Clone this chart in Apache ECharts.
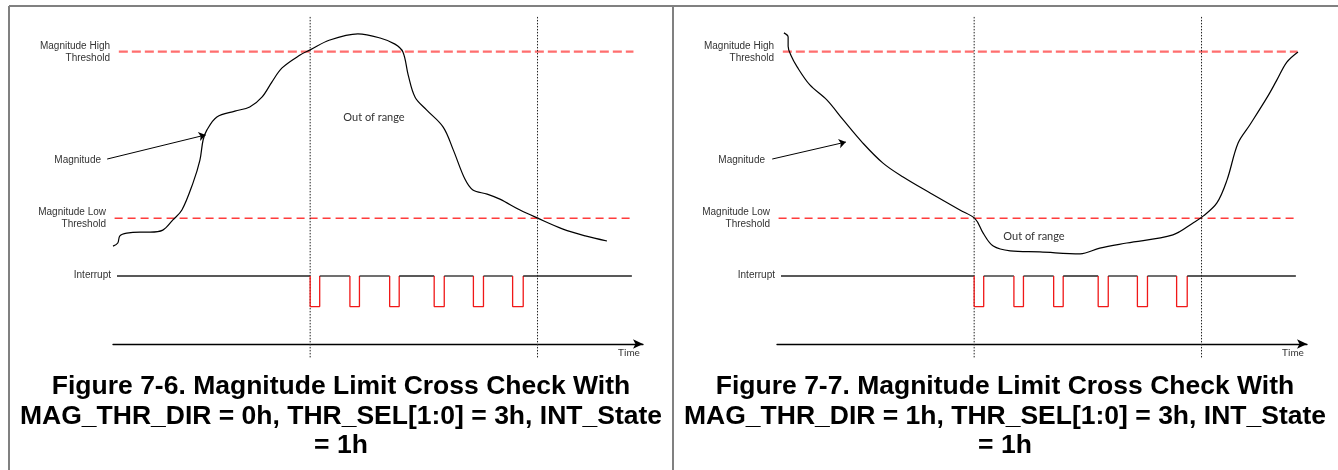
<!DOCTYPE html>
<html>
<head>
<meta charset="utf-8">
<script src="https://cdn.jsdelivr.net/npm/echarts@6/dist/echarts.min.js"></script>
<style>
  html, body { margin: 0; padding: 0; background: #fff; }
  #main { width: 1338px; height: 470px; }
</style>
</head>
<body>
<div id="main"></div>
<script>
// time runs 0..100 along the Time arrow, magnitude 0..100 above it
var magLeft = [[0, 28.8], [0.9, 29.7], [1.3, 31.8], [2.6, 32.6], [5.1, 32.9], [7.0, 32.9], [9.4, 33.5],
  [11.3, 36.5], [13.0, 39.4], [15.1, 47.4], [16.4, 54.1], [17.0, 60.0], [17.7, 62.9], [19.6, 66.8],
  [23.0, 68.5], [25.8, 69.7], [28.1, 72.6], [30.0, 77.1], [31.9, 81.2], [35.3, 85.0], [37.2, 86.5],
  [40.9, 89.4], [46.2, 91.2], [50.4, 90.0], [53.2, 88.2], [54.7, 85.9], [55.7, 79.1], [57.0, 72.6],
  [59.2, 68.8], [62.3, 63.8], [64.2, 57.1], [66.4, 48.5], [67.9, 45.3], [70.6, 44.1], [73.0, 42.6],
  [76.8, 39.4], [80.0, 37.1], [84.9, 33.8], [89.1, 31.8], [93.2, 30.3]];
var magRight = [[1.3, 91.5], [2.1, 90.3], [2.1, 87.6], [2.6, 85.0], [3.8, 81.5], [6.2, 76.2], [9.4, 71.8],
  [12.5, 65.9], [16.2, 59.1], [20.0, 53.2], [23.8, 49.1], [28.9, 44.4], [34.5, 39.4], [37.4, 36.8],
  [38.9, 32.6], [40.8, 28.8], [44.0, 27.4], [49.6, 27.1], [57.2, 26.5], [60.9, 28.2], [66.0, 29.7],
  [74.7, 32.1], [78.5, 35.6], [80.4, 37.6], [83.0, 41.5], [84.9, 48.2], [87.0, 59.1], [89.2, 64.4],
  [92.5, 72.6], [94.3, 77.6], [96.2, 82.9], [98.3, 85.9]];
var highThr = [[1.1, 86], [98.2, 86]];
var lowThr = [[0.3, 37], [97.6, 37]];
var intHigh = 20, intLow = 11, intStart = 0.75, intEnd = 97.9;
var pulses = [[37.2, 39.0], [44.7, 46.5], [52.2, 54.0], [60.6, 62.5], [68.0, 69.9], [75.4, 77.4]];
var crossLeft = [37.2, 80.1];
var crossRight = [37.2, 80.1];
var dotTop = 96.2, dotBottom = -4.1;
var arrowLeft = [[-1.1, 54.4], [17.5, 61.5]];
var arrowRight = [[-0.9, 54.4], [13.0, 59.4]];

var chart = echarts.init(document.getElementById('main'));
var offset = 664;
var series = [];

function addLine(g, data, style, extra) {
  var s = {
    type: 'line', xAxisIndex: g, yAxisIndex: g, data: data,
    showSymbol: false, symbol: 'none', clip: false, silent: true,
    lineStyle: style
  };
  for (var k in extra) s[k] = extra[k];
  series.push(s);
}

function panel(g, mag, cross, arrow) {
  addLine(g, highThr, { color: '#ff6e6e', width: 2.4, type: [9, 4] });
  addLine(g, lowThr, { color: '#ff3c3c', width: 1.4, type: [8, 5] });
  addLine(g, mag, { color: '#000', width: 1.2 }, { smooth: 0.35 });
  // pointer from the "Magnitude" label to the curve
  series.push({
    type: 'lines', coordinateSystem: 'cartesian2d', xAxisIndex: g, yAxisIndex: g,
    clip: false, silent: true, symbol: ['none', 'arrow'], symbolSize: 7,
    lineStyle: { color: '#000', width: 1, opacity: 1 },
    data: [{ coords: arrow }]
  });
  cross.forEach(function (t) {
    addLine(g, [[t, dotTop], [t, dotBottom]], { color: '#222', width: 1, type: [1.5, 1.5] });
  });
  // interrupt: black high level, red pulses
  var x0 = intStart;
  pulses.forEach(function (p) {
    addLine(g, [[x0, intHigh], [p[0], intHigh]], { color: '#222', width: 1.3 });
    addLine(g, [[p[0], intHigh], [p[0], intLow], [p[1], intLow], [p[1], intHigh]], { color: '#f01818', width: 1.3 });
    x0 = p[1];
  });
  addLine(g, [[x0, intHigh], [intEnd, intHigh]], { color: '#222', width: 1.3 });
}

panel(0, magLeft, crossLeft, arrowLeft);
panel(1, magRight, crossRight, arrowRight);

function axisX(g) {
  return {
    type: 'value', gridIndex: g, min: 0, max: 100,
    axisLine: { show: true, onZero: true, symbol: ['none', 'arrow'], symbolSize: [7, 10],
      lineStyle: { color: '#000', width: 1.3 } },
    axisTick: { show: false }, axisLabel: { show: false }, splitLine: { show: false }
  };
}
function axisY(g) {
  return { type: 'value', gridIndex: g, min: -5, max: 100, show: false };
}

var graphics = [
  { type: 'line', shape: { x1: 9, y1: 6, x2: 1338, y2: 6 }, style: { stroke: '#808080', lineWidth: 2 } },
  { type: 'line', shape: { x1: 9, y1: 6, x2: 9, y2: 470 }, style: { stroke: '#808080', lineWidth: 2 } },
  { type: 'line', shape: { x1: 673, y1: 6, x2: 673, y2: 470 }, style: { stroke: '#808080', lineWidth: 2 } }
];
[0, offset].forEach(function (dx) {
  var txt = [
    ['Magnitude High\nThreshold', 110, 52],
    ['Magnitude', 101, 160],
    ['Magnitude Low\nThreshold', 106, 218],
    ['Interrupt', 111, 275]
  ];
  txt.forEach(function (t) {
    graphics.push({ type: 'text', style: { text: t[0], x: t[1] + dx, y: t[2], align: 'right',
      verticalAlign: 'middle', lineHeight: 12, font: '10px "Liberation Sans"', fill: '#333' } });
  });
  graphics.push({ type: 'text', style: { text: 'Time', x: 629 + dx, y: 353, align: 'center',
    verticalAlign: 'middle', font: '10px Lato', fill: '#333' } });
});
graphics.push({ type: 'text', style: { text: 'Out of range', x: 374, y: 117, align: 'center',
  verticalAlign: 'middle', font: '11px Lato', fill: '#333' } });
graphics.push({ type: 'text', style: { text: 'Out of range', x: 1034, y: 236, align: 'center',
  verticalAlign: 'middle', font: '11px Lato', fill: '#333' } });

var titleStyle = { fontFamily: 'Liberation Sans', fontSize: 26.5, fontWeight: 'bold', color: '#000', lineHeight: 29.5, align: 'center' };

chart.setOption({
  animation: false,
  backgroundColor: '#fff',
  title: [
    { text: 'Figure 7-6. Magnitude Limit Cross Check With\nMAG_THR_DIR = 0h, THR_SEL[1:0] = 3h, INT_State\n= 1h',
      left: 341, top: 372, textAlign: 'center', textStyle: titleStyle, padding: 0 },
    { text: 'Figure 7-7. Magnitude Limit Cross Check With\nMAG_THR_DIR = 1h, THR_SEL[1:0] = 3h, INT_State\n= 1h',
      left: 1005, top: 372, textAlign: 'center', textStyle: titleStyle, padding: 0 }
  ],
  grid: [
    { left: 113, top: 4, width: 530, height: 357 },
    { left: 113 + offset, top: 4, width: 530, height: 357 }
  ],
  xAxis: [axisX(0), axisX(1)],
  yAxis: [axisY(0), axisY(1)],
  series: series,
  graphic: graphics
});
</script>
</body>
</html>
